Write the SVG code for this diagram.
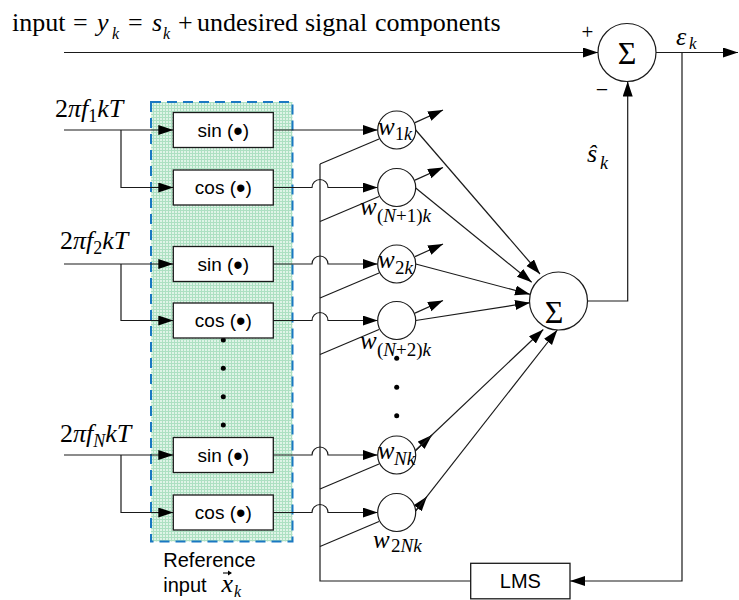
<svg xmlns="http://www.w3.org/2000/svg" width="739" height="600" viewBox="0 0 739 600">
<style>
.ln{fill:none;stroke:#1a1a1a;stroke-width:1.2}
.ar{fill:none;stroke:#1a1a1a;stroke-width:1.2;marker-end:url(#ah)}
.box{fill:#fff;stroke:#1a1a1a;stroke-width:1.3}
.wc{fill:#fff;stroke:#1a1a1a;stroke-width:1.2}
.bt{font-family:"Liberation Sans",Arial,sans-serif;font-size:19px;fill:#000;text-anchor:middle}
.bul{font-size:27px}
.tm{font-family:"Liberation Serif","Times New Roman",serif;fill:#000}
.it{font-style:italic}
.dot{fill:#000}
</style>
<defs>
<marker id="ah" markerUnits="userSpaceOnUse" markerWidth="16" markerHeight="11" refX="15" refY="5" orient="auto">
<path d="M0,0 L15,5 L0,10 z" fill="#000"/>
</marker>
<pattern id="grid" width="3" height="3" patternUnits="userSpaceOnUse">
<rect width="3" height="3" fill="#dff4e7"/>
<path d="M0,0.5H3M0.5,0V3" stroke="#ade0c2" stroke-width="1"/>
</pattern>
</defs>

<!-- title text -->
<text class="tm" font-size="26" y="31"><tspan x="12">input</tspan><tspan x="73">=</tspan><tspan x="97" class="it">y</tspan><tspan x="112" dy="8" font-size="16" class="it">k</tspan><tspan x="128" dy="-8">=</tspan><tspan x="152" class="it">s</tspan><tspan x="163" dy="8" font-size="16" class="it">k</tspan><tspan x="178" dy="-8">+</tspan><tspan x="197">undesired</tspan><tspan x="305">signal</tspan><tspan x="375">components</tspan></text>

<!-- reference input region -->
<g id="reference-block">
<rect x="151" y="102" width="141.5" height="439.5" fill="url(#grid)" stroke="#1a78c2" stroke-width="2" stroke-dasharray="10 6"/>
<circle class="dot" cx="223.3" cy="340" r="2.5"/>
<circle class="dot" cx="223.3" cy="368.3" r="2.5"/>
<circle class="dot" cx="223.3" cy="396.7" r="2.5"/>
<circle class="dot" cx="223.3" cy="425" r="2.5"/>
<text class="bt" x="163.3" y="566.7" style="text-anchor:start;font-size:20px">Reference</text>
<text class="bt" x="163.3" y="591.7" style="text-anchor:start;font-size:20px">input</text>
<text class="tm it" x="221.5" y="592" font-size="26">x</text>
<text class="tm it" x="234" y="597" font-size="16">k</text>
<path class="ln" d="M223,573 H231" stroke-width="1"/>
<path d="M228,570.6 L232,573 L228,575.4 z" fill="#000"/>
</g>

<!-- frequency labels -->
<g id="label-f1"><text class="tm it" x="55" y="117" font-size="26"><tspan font-style="normal">2</tspan>πf<tspan dy="5" font-size="18" font-style="normal">1</tspan><tspan dy="-5">kT</tspan></text></g>
<g id="label-f2"><text class="tm it" x="60" y="249" font-size="26"><tspan font-style="normal">2</tspan>πf<tspan dy="5" font-size="18" font-style="normal">2</tspan><tspan dy="-5">kT</tspan></text></g>
<g id="label-fN"><text class="tm it" x="60" y="441.7" font-size="26"><tspan font-style="normal">2</tspan>πf<tspan dy="5" font-size="18">N</tspan><tspan dy="-5">kT</tspan></text></g>

<!-- function boxes -->
<g id="sin1"><rect class="box" x="173.3" y="112.5" width="100" height="35"/><text class="bt" x="223.3" y="136.5">sin (<tspan class="bul" dy="3">•</tspan><tspan dy="-3">)</tspan></text></g>
<g id="cos1"><rect class="box" x="173.3" y="170" width="100" height="35"/><text class="bt" x="223.3" y="194">cos (<tspan class="bul" dy="3">•</tspan><tspan dy="-3">)</tspan></text></g>
<g id="sin2"><rect class="box" x="173.3" y="246.5" width="100" height="35"/><text class="bt" x="223.3" y="270.5">sin (<tspan class="bul" dy="3">•</tspan><tspan dy="-3">)</tspan></text></g>
<g id="cos2"><rect class="box" x="173.3" y="303" width="100" height="35"/><text class="bt" x="223.3" y="327">cos (<tspan class="bul" dy="3">•</tspan><tspan dy="-3">)</tspan></text></g>
<g id="sinN"><rect class="box" x="173.3" y="437.5" width="100" height="35"/><text class="bt" x="223.3" y="461.5">sin (<tspan class="bul" dy="3">•</tspan><tspan dy="-3">)</tspan></text></g>
<g id="cosN"><rect class="box" x="173.3" y="495" width="100" height="35"/><text class="bt" x="223.3" y="519">cos (<tspan class="bul" dy="3">•</tspan><tspan dy="-3">)</tspan></text></g>

<!-- connectors -->
<g id="connectors">
<path class="ar" d="M64,52.5 H598"/>
<path class="ar" d="M656,52.5 H738"/>
<path class="ar" d="M587.5,301 H627.7 V81.5"/>
<path class="ar" d="M682,52.5 V581 H570"/>
<path class="ln" d="M320,164 V581 H470.7"/>

<path class="ar" d="M64,130 H173.3"/>
<path class="ar" d="M121,130 V187.5 H173.3"/>
<path class="ar" d="M64,264 H173.3"/>
<path class="ar" d="M121,264 V320.5 H173.3"/>
<path class="ar" d="M64,455 H173.3"/>
<path class="ar" d="M121,455 V512.5 H173.3"/>

<path class="ar" d="M273.3,130 H377.7"/>
<path class="ar" d="M273.3,187.5 H312 A8,8 0 0 1 328,187.5 H377.7"/>
<path class="ar" d="M273.3,264 H312 A8,8 0 0 1 328,264 H377.7"/>
<path class="ar" d="M273.3,320.5 H312 A8,8 0 0 1 328,320.5 H377.7"/>
<path class="ar" d="M273.3,455 H312 A8,8 0 0 1 328,455 H377.7"/>
<path class="ar" d="M273.3,512.5 H312 A8,8 0 0 1 328,512.5 H377.7"/>

<path class="ln" d="M320,164 L379,139"/>
<path class="ln" d="M320,221.5 L379,196.5"/>
<path class="ln" d="M320,298 L379,273"/>
<path class="ln" d="M320,354.5 L379,329.5"/>
<path class="ln" d="M320,489 L379,464"/>
<path class="ln" d="M320,546.5 L379,521.5"/>

<path class="ar" d="M415,122.6 L443,110"/>
<path class="ar" d="M415,180.1 L443,167.5"/>
<path class="ar" d="M415,256.6 L443,244"/>
<path class="ar" d="M415,313.1 L443,300.5"/>
<path class="ar" d="M415,451 L432,435"/>
<path class="ar" d="M415,511.7 L427,496.5"/>

<path class="ar" d="M415.7,130 L540,274"/>
<path class="ar" d="M415.7,188 L531.7,282.3"/>
<path class="ar" d="M415.7,264 L530,294.3"/>
<path class="ar" d="M415.7,320.5 L530,302.7"/>
<path class="ar" d="M415,451 L543.3,329.5"/>
<path class="ar" d="M415,511.7 L557.3,330"/>
</g>

<!-- weights -->
<g id="w1k"><circle class="wc" cx="396.7" cy="130" r="19"/><text class="tm it" x="378" y="135" font-size="25">w<tspan x="395" y="140" font-size="18"><tspan font-style="normal">1</tspan>k</tspan></text></g>
<g id="wN1k"><circle class="wc" cx="396.7" cy="187.5" r="19"/><text class="tm it" x="360" y="215" font-size="25">w<tspan x="377" y="222" font-size="19"><tspan font-style="normal">(</tspan>N<tspan font-style="normal">+1)</tspan>k</tspan></text></g>
<g id="w2k"><circle class="wc" cx="396.7" cy="264" r="19"/><text class="tm it" x="378" y="268" font-size="25">w<tspan x="395" y="274" font-size="19"><tspan font-style="normal">2</tspan>k</tspan></text></g>
<g id="wN2k"><circle class="wc" cx="396.7" cy="320.5" r="19"/><text class="tm it" x="360" y="349" font-size="25">w<tspan x="377" y="356" font-size="19"><tspan font-style="normal">(</tspan>N<tspan font-style="normal">+2)</tspan>k</tspan></text></g>
<g id="weight-dots">
<circle class="dot" cx="396.7" cy="358.3" r="2.5"/>
<circle class="dot" cx="396.7" cy="387.3" r="2.5"/>
<circle class="dot" cx="396.7" cy="415.7" r="2.5"/>
</g>
<g id="wNk"><circle class="wc" cx="396.7" cy="455" r="19"/><text class="tm it" x="377.7" y="459" font-size="25">w<tspan x="394" y="465" font-size="19">Nk</tspan></text></g>
<g id="w2Nk"><circle class="wc" cx="396.7" cy="512.5" r="19"/><text class="tm it" x="373" y="548" font-size="25">w<tspan x="391" y="552" font-size="19"><tspan font-style="normal">2</tspan>Nk</tspan></text></g>

<!-- summers -->
<g id="sum-main"><circle class="wc" cx="558.5" cy="301" r="29"/><text class="tm" x="554" y="323" font-size="32" text-anchor="middle">Σ</text></g>
<g id="sum-error"><circle class="wc" cx="627" cy="52.5" r="29"/><text class="tm" x="627" y="63.5" font-size="32" text-anchor="middle">Σ</text>
<text class="tm" x="587.5" y="39" font-size="21" text-anchor="middle">+</text>
<text class="tm" x="602" y="97" font-size="22" text-anchor="middle">−</text></g>

<g id="label-eps"><text class="tm it" x="676" y="45" font-size="26">ε<tspan x="689" y="49" font-size="17">k</tspan></text></g>
<g id="label-shat"><text class="tm it" x="587" y="162" font-size="26">ŝ<tspan x="600" y="169" font-size="18">k</tspan></text></g>

<g id="lms"><rect class="box" x="470.7" y="563.3" width="99.3" height="35.5"/><text class="bt" x="520.4" y="588.3" style="font-size:20px">LMS</text></g>
</svg>
